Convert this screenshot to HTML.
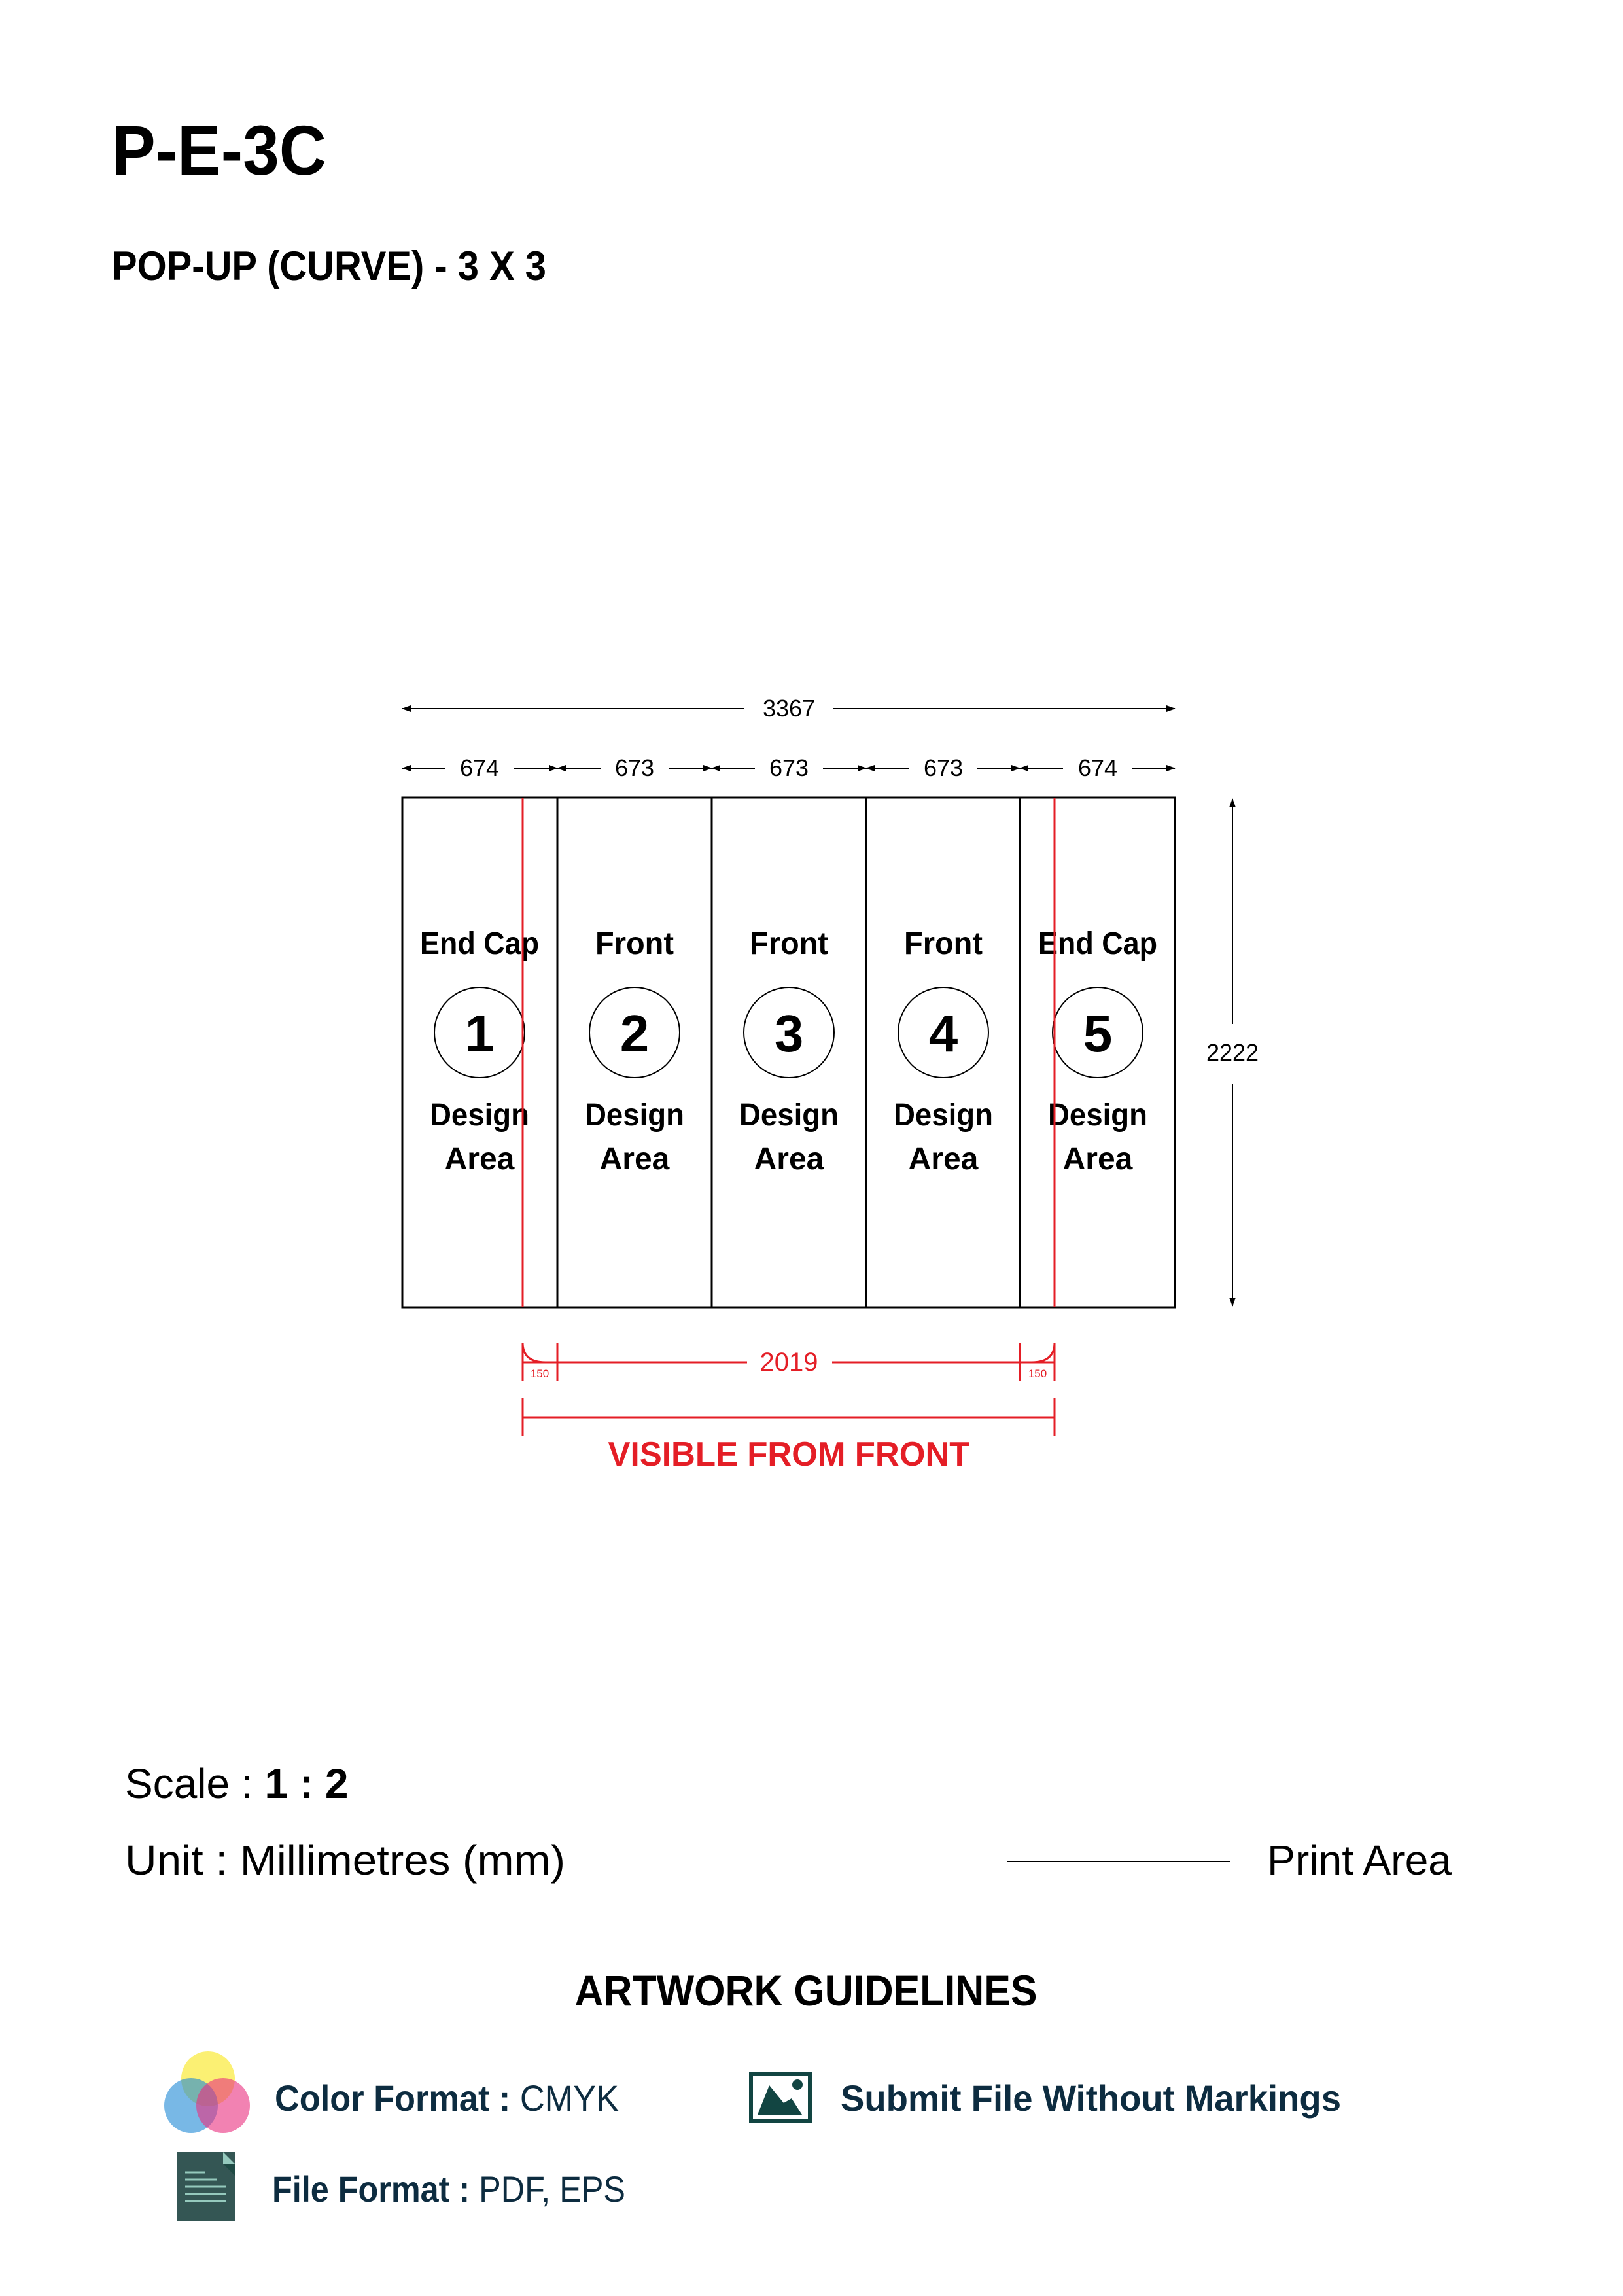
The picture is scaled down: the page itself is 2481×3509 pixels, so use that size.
<!DOCTYPE html>
<html><head><meta charset="utf-8"><style>
html,body{margin:0;padding:0;background:#fff;}
svg{display:block;}
</style></head><body>
<svg width="2481" height="3509" viewBox="0 0 2481 3509" xmlns="http://www.w3.org/2000/svg" font-family="Liberation Sans, sans-serif">
<defs>
<marker id="a" markerWidth="14" markerHeight="10" refX="13" refY="5" orient="auto" markerUnits="userSpaceOnUse"><path d="M0,0 L14,5 L0,10 Z" fill="#000"/></marker>
</defs>
<rect width="2481" height="3509" fill="#fff"/>
<text x="171" y="267" font-size="108" font-weight="bold" textLength="328" lengthAdjust="spacingAndGlyphs">P-E-3C</text>
<text x="171" y="428" font-size="63" font-weight="bold" textLength="664" lengthAdjust="spacingAndGlyphs">POP-UP (CURVE) - 3 X 3</text>

<g stroke="#000" stroke-width="2" fill="none">
<line x1="1138" y1="1083" x2="615" y2="1083" marker-end="url(#a)"/>
<line x1="1274" y1="1083" x2="1796" y2="1083" marker-end="url(#a)"/>
<line x1="681" y1="1174" x2="615" y2="1174" marker-end="url(#a)"/>
<line x1="786" y1="1174" x2="852" y2="1174" marker-end="url(#a)"/>
<line x1="918" y1="1174" x2="852" y2="1174" marker-end="url(#a)"/>
<line x1="1022" y1="1174" x2="1088" y2="1174" marker-end="url(#a)"/>
<line x1="1154" y1="1174" x2="1088" y2="1174" marker-end="url(#a)"/>
<line x1="1258" y1="1174" x2="1324" y2="1174" marker-end="url(#a)"/>
<line x1="1390" y1="1174" x2="1324" y2="1174" marker-end="url(#a)"/>
<line x1="1493" y1="1174" x2="1559" y2="1174" marker-end="url(#a)"/>
<line x1="1625" y1="1174" x2="1559" y2="1174" marker-end="url(#a)"/>
<line x1="1730" y1="1174" x2="1796" y2="1174" marker-end="url(#a)"/>
<line x1="1884" y1="1565" x2="1884" y2="1221" marker-end="url(#a)"/>
<line x1="1884" y1="1656" x2="1884" y2="1996" marker-end="url(#a)"/>
</g>
<g font-size="36" text-anchor="middle">
<text x="1206" y="1095">3367</text>
<text x="733" y="1186">674</text>
<text x="970" y="1186">673</text>
<text x="1206" y="1186">673</text>
<text x="1442" y="1186">673</text>
<text x="1678" y="1186">674</text>
<text x="1884" y="1621">2222</text>
</g>

<g stroke="#000" stroke-width="3" fill="none">
<rect x="615" y="1219" width="1181" height="779"/>
<line x1="852" y1="1219" x2="852" y2="1998"/>
<line x1="1088" y1="1219" x2="1088" y2="1998"/>
<line x1="1324" y1="1219" x2="1324" y2="1998"/>
<line x1="1559" y1="1219" x2="1559" y2="1998"/>
<circle cx="733" cy="1578" r="69" stroke-width="2"/>
<circle cx="970" cy="1578" r="69" stroke-width="2"/>
<circle cx="1206" cy="1578" r="69" stroke-width="2"/>
<circle cx="1442" cy="1578" r="69" stroke-width="2"/>
<circle cx="1678" cy="1578" r="69" stroke-width="2"/>
</g>
<g font-size="48" font-weight="bold" text-anchor="middle">
<text x="733" y="1458" textLength="182" lengthAdjust="spacingAndGlyphs">End Cap</text>
<text x="970" y="1458" textLength="120" lengthAdjust="spacingAndGlyphs">Front</text>
<text x="1206" y="1458" textLength="120" lengthAdjust="spacingAndGlyphs">Front</text>
<text x="1442" y="1458" textLength="120" lengthAdjust="spacingAndGlyphs">Front</text>
<text x="1678" y="1458" textLength="182" lengthAdjust="spacingAndGlyphs">End Cap</text>
<g font-size="80"><text x="733" y="1607">1</text><text x="970" y="1607">2</text><text x="1206" y="1607">3</text><text x="1442" y="1607">4</text><text x="1678" y="1607">5</text></g>
<text x="733" y="1720" textLength="152" lengthAdjust="spacingAndGlyphs">Design</text>
<text x="970" y="1720" textLength="152" lengthAdjust="spacingAndGlyphs">Design</text>
<text x="1206" y="1720" textLength="152" lengthAdjust="spacingAndGlyphs">Design</text>
<text x="1442" y="1720" textLength="152" lengthAdjust="spacingAndGlyphs">Design</text>
<text x="1678" y="1720" textLength="152" lengthAdjust="spacingAndGlyphs">Design</text>
<text x="733" y="1787">Area</text><text x="970" y="1787">Area</text><text x="1206" y="1787">Area</text><text x="1442" y="1787">Area</text><text x="1678" y="1787">Area</text>
</g>

<g stroke="#e41e26" stroke-width="3" fill="none">
<line x1="799" y1="1219" x2="799" y2="1998"/>
<line x1="1612" y1="1219" x2="1612" y2="1998"/>
<line x1="799" y1="2052" x2="799" y2="2110"/>
<line x1="852" y1="2052" x2="852" y2="2110"/>
<line x1="1559" y1="2052" x2="1559" y2="2110"/>
<line x1="1612" y1="2052" x2="1612" y2="2110"/>
<line x1="799" y1="2082" x2="1142" y2="2082"/>
<line x1="1272" y1="2082" x2="1612" y2="2082"/>
<path d="M799,2052 Q799,2082 834,2082"/>
<path d="M1612,2052 Q1612,2082 1577,2082"/>
<line x1="799" y1="2137" x2="799" y2="2195"/>
<line x1="1612" y1="2137" x2="1612" y2="2195"/>
<line x1="799" y1="2166" x2="1612" y2="2166"/>
</g>
<g fill="#e41e26" text-anchor="middle">
<text x="1206" y="2095" font-size="40">2019</text>
<text x="825" y="2105" font-size="17">150</text>
<text x="1586" y="2105" font-size="17">150</text>
<text x="1206" y="2240" font-size="52" font-weight="bold" textLength="553" lengthAdjust="spacingAndGlyphs">VISIBLE FROM FRONT</text>
</g>

<text x="191" y="2748" font-size="64">Scale : <tspan font-weight="bold">1 : 2</tspan></text>
<text x="191" y="2865" font-size="64" textLength="673" lengthAdjust="spacingAndGlyphs">Unit : Millimetres (mm)</text>
<line x1="1539" y1="2845" x2="1881" y2="2845" stroke="#000" stroke-width="2"/>
<text x="1937" y="2865" font-size="64" textLength="282" lengthAdjust="spacingAndGlyphs">Print Area</text>
<text x="1232" y="3065" font-size="66" font-weight="bold" text-anchor="middle" textLength="707" lengthAdjust="spacingAndGlyphs">ARTWORK GUIDELINES</text>

<ellipse cx="318" cy="3177" rx="41" ry="42" fill="#f7e400" fill-opacity="0.55"/>
<ellipse cx="292" cy="3218" rx="41" ry="42" fill="#1e88d6" fill-opacity="0.6"/>
<ellipse cx="341" cy="3218" rx="41" ry="42" fill="#ea2e7f" fill-opacity="0.6"/>
<text x="420" y="3226" font-size="56" fill="#0d2c40" textLength="526" lengthAdjust="spacingAndGlyphs"><tspan font-weight="bold">Color Format :</tspan> CMYK</text>

<rect x="270" y="3289" width="89" height="105" fill="#345654"/>
<path d="M341,3289 L359,3307 L341,3307 Z" fill="#95c9bd"/>
<path d="M341,3307 L359,3307 L359,3325 Z" fill="#1f4a44"/>
<g stroke="#95c9bd" stroke-width="3"><line x1="283" y1="3320" x2="314" y2="3320"/><line x1="283" y1="3331" x2="331" y2="3331"/><line x1="283" y1="3342" x2="346" y2="3342"/><line x1="283" y1="3353" x2="346" y2="3353"/><line x1="283" y1="3364" x2="346" y2="3364"/></g>
<text x="416" y="3365" font-size="56" fill="#0d2c40" textLength="540" lengthAdjust="spacingAndGlyphs"><tspan font-weight="bold">File Format :</tspan> PDF, EPS</text>

<rect x="1148" y="3170" width="90" height="72" fill="none" stroke="#124542" stroke-width="6"/>
<path d="M1158,3232 L1176,3187 L1198,3214 L1210,3207 L1226,3232 Z" fill="#124542"/>
<ellipse cx="1219" cy="3186" rx="8" ry="8" fill="#124542"/>
<text x="1285" y="3226" font-size="56" font-weight="bold" fill="#0d2c40" textLength="765" lengthAdjust="spacingAndGlyphs">Submit File Without Markings</text>
</svg>
</body></html>
